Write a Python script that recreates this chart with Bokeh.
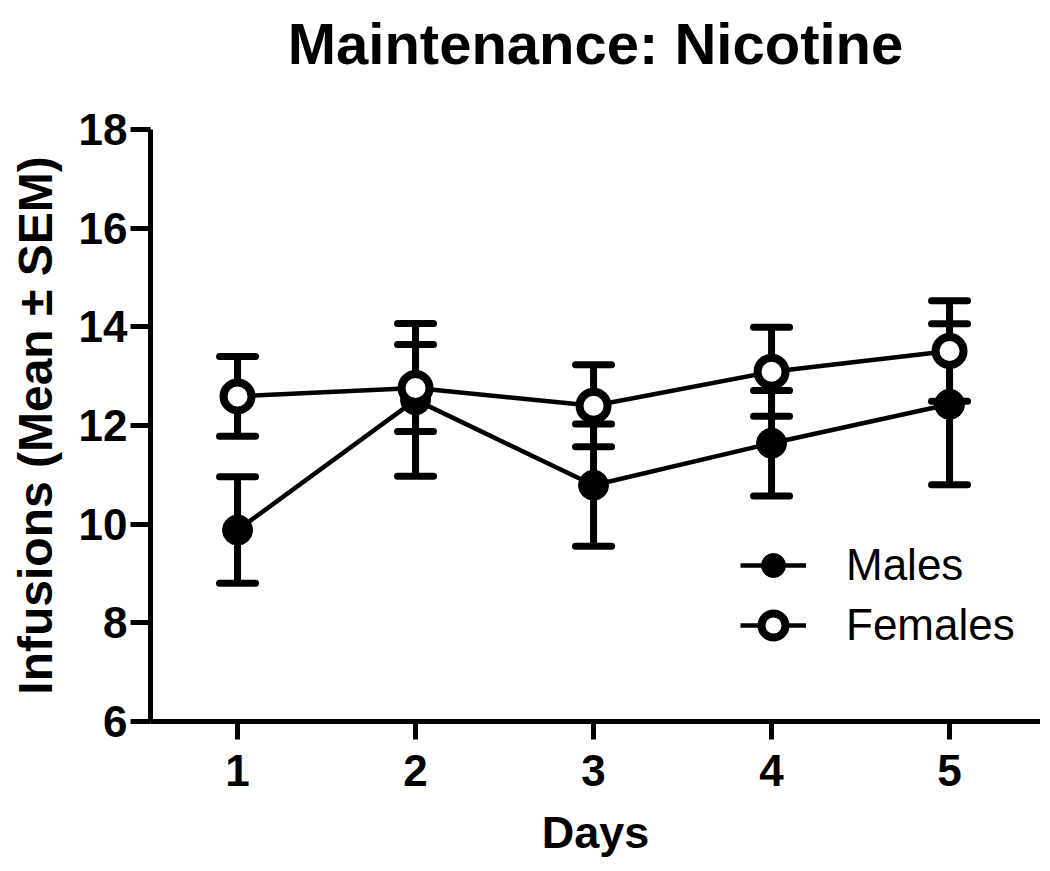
from bokeh.plotting import figure
from bokeh.models import (ColumnDataSource, Whisker, TeeHead, FixedTicker, Legend,
                          LegendItem, Range1d, Title)
from bokeh.embed import file_html
from bokeh.resources import INLINE

# ---- data ----
days = [1, 2, 3, 4, 5]
males_mean = [9.88, 12.52, 10.79, 11.64, 12.43]
males_sem = [1.08, 1.55, 1.24, 1.07, 1.63]
females_mean = [12.59, 12.76, 12.40, 13.09, 13.51]
females_sem = [0.81, 0.88, 0.83, 0.90, 1.02]
y_ticks = [6, 8, 10, 12, 14, 16, 18]
x_ticks = [1, 2, 3, 4, 5]
title_text = "Maintenance: Nicotine"
x_label = "Days"
y_label = "Infusions (Mean ± SEM)"
series_names = ["Males", "Females"]

FONT = "Liberation Sans"

males = ColumnDataSource(dict(
    x=days, y=males_mean,
    lower=[m - s for m, s in zip(males_mean, males_sem)],
    upper=[m + s for m, s in zip(males_mean, males_sem)]))
females = ColumnDataSource(dict(
    x=days, y=females_mean,
    lower=[m - s for m, s in zip(females_mean, females_sem)],
    upper=[m + s for m, s in zip(females_mean, females_sem)]))

p = figure(width=1040, height=862, output_backend="svg", toolbar_location=None,
           x_range=Range1d(0.511, 5.511), y_range=Range1d(6, 18),
           min_border_left=150, min_border_right=0, min_border_top=129,
           min_border_bottom=141)
p.outline_line_color = None
p.grid.visible = False
p.background_fill_color = "white"
p.border_fill_color = "white"

# spacer between frame and title (pushes the title upward)
spacer = Title(text=" ", text_font_size="10px", standoff=36, text_color="white")
p.add_layout(spacer, "above")

# main title (outermost in the above panel)
p.title.text = title_text
p.title.align = "center"
p.title.text_font = FONT
p.title.text_font_size = "58px"
p.title.text_font_style = "bold"
p.title.text_color = "black"
p.title.standoff = 10

# axes
for ax in (p.xaxis[0], p.yaxis[0]):
    ax.axis_line_width = 5
    ax.axis_line_color = "black"
    ax.major_tick_line_width = 5
    ax.major_tick_line_color = "black"
    ax.minor_tick_line_color = None
    ax.major_tick_in = 0
    ax.major_label_text_font = FONT
    ax.major_label_text_font_style = "bold"
    ax.major_label_text_font_size = "44px"
    ax.major_label_text_color = "black"
    ax.axis_label_text_font = FONT
    ax.axis_label_text_font_style = "bold"
    ax.axis_label_text_color = "black"

p.xaxis[0].ticker = FixedTicker(ticks=x_ticks)
p.yaxis[0].ticker = FixedTicker(ticks=y_ticks)
p.xaxis[0].major_tick_out = 18
p.yaxis[0].major_tick_out = 20
p.xaxis[0].major_label_standoff = 15
p.yaxis[0].major_label_standoff = 3
p.xaxis[0].axis_label = x_label
p.yaxis[0].axis_label = y_label
p.xaxis[0].axis_label_text_font_size = "45px"
p.yaxis[0].axis_label_text_font_size = "48px"
p.xaxis[0].axis_label_standoff = 18
p.yaxis[0].axis_label_standoff = 14

# error bars
for src in (males, females):
    w = Whisker(source=src, base="x", lower="lower", upper="upper",
                line_width=7, line_color="black",
                upper_head=TeeHead(size=36, line_width=7, line_color="black", line_cap="round"),
                lower_head=TeeHead(size=36, line_width=7, line_color="black", line_cap="round"))
    p.add_layout(w)

# lines and markers
ml = p.line("x", "y", source=males, line_width=4.5, line_color="black")
fl = p.line("x", "y", source=females, line_width=4.5, line_color="black")
ms = p.scatter("x", "y", source=males, marker="circle", size=30,
               fill_color="black", line_color="black", line_width=1)
fs = p.scatter("x", "y", source=females, marker="circle", size=28,
               fill_color="white", line_color="black", line_width=8)

legend = Legend(items=[LegendItem(label=series_names[0], renderers=[ml, ms]),
                       LegendItem(label=series_names[1], renderers=[fl, fs])],
                location=(590, 66), orientation="vertical")
legend.background_fill_alpha = 0
legend.border_line_color = None
legend.padding = 0
legend.spacing = 0
legend.margin = 0
legend.glyph_width = 66
legend.glyph_height = 60
legend.label_height = 60
legend.label_standoff = 40
legend.label_text_font = FONT
legend.label_text_font_size = "44px"
legend.label_text_color = "black"
p.add_layout(legend, "center")

open("out.html", "w").write(file_html(p, INLINE))
